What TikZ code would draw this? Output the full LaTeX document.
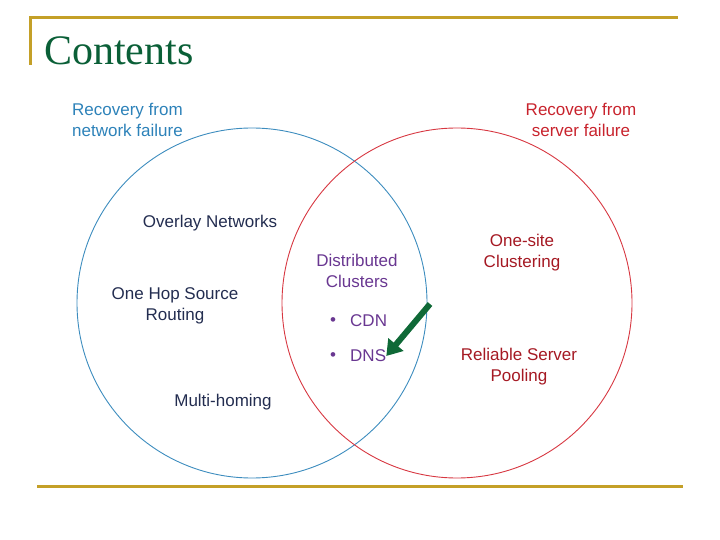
\documentclass[tikz,border=0pt]{standalone}
\usepackage{fontspec}
\setmainfont{Liberation Sans}
\newfontfamily\titlefont{Liberation Serif}
\usetikzlibrary{arrows.meta}
\definecolor{gold}{RGB}{196,160,40}
\definecolor{titlegreen}{RGB}{10,95,55}
\definecolor{cblue}{RGB}{60,140,190}
\definecolor{cred}{RGB}{215,55,65}
\definecolor{tblue}{RGB}{45,130,185}
\definecolor{tred}{RGB}{200,35,45}
\definecolor{tnavy}{RGB}{35,45,80}
\definecolor{tdred}{RGB}{165,25,35}
\definecolor{tpurple}{RGB}{105,55,145}
\definecolor{arrowgreen}{RGB}{15,105,55}
\tikzset{
  lbl/.style={inner sep=0pt, align=center, font=\fontsize{17}{21}\selectfont},
  ring/.style={draw, line width=0.9pt},
  rule/.style={draw=gold, line width=3pt},
}
\begin{document}
\begin{tikzpicture}[x=1pt,y=-1pt]
\useasboundingbox (0,0) rectangle (720,540);
% frame lines
\draw[rule] (30,65) -- (30,18) -- (678,18);
\draw[rule] (37,486) -- (683,486);
% title
\node[anchor=base west, inner sep=0pt, text=titlegreen, font=\titlefont\fontsize{42}{48}\selectfont] (title) at (44,65) {Contents};
% circles
\node[ring, draw=cblue, circle, minimum size=350pt, inner sep=0pt] (blue) at (252,303) {};
\node[ring, draw=cred, circle, minimum size=350pt, inner sep=0pt] (red) at (457,303) {};
% headings
\node[lbl, anchor=west, align=left, text=tblue] (rnet) at (72,120) {Recovery from\\network failure};
\node[lbl, text=tred] (rsrv) at (581,120) {Recovery from\\server failure};
% left items
\node[lbl, text=tnavy] (overlay) at (210,223) {Overlay Networks};
\node[lbl, text=tnavy] (onehop) at (175,306) {One Hop Source\\Routing};
\node[lbl, text=tnavy] (multi) at (223,402) {Multi-homing};
% middle
\node[lbl, text=tpurple] (dist) at (357,271) {Distributed\\Clusters};
\node[lbl, anchor=west, text=tpurple] (cdn) at (350,321) {CDN};
\node[lbl, anchor=west, text=tpurple] (dns) at (350,356) {DNS};
\node[lbl, text=tpurple] (b1) at (333,322) {\textbullet};
\node[lbl, text=tpurple] (b2) at (333,357) {\textbullet};
% right items
\node[lbl, text=tdred] (onesite) at (522,253) {One-site\\Clustering};
\node[lbl, text=tdred] (pool) at (519,367) {Reliable Server\\Pooling};
% arrow
\coordinate (atail) at (430,304);
\draw[arrowgreen, line width=6pt, -{Triangle[width=19pt,length=15pt]}] (atail) -- (dns.east);
\end{tikzpicture}
\end{document}
